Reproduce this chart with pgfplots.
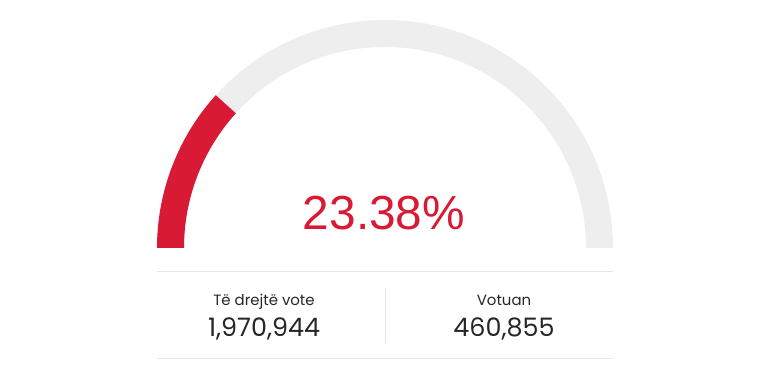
\documentclass[border=0pt]{standalone}
\usepackage{pgfplots}
\pgfplotsset{compat=1.18}
\usetikzlibrary{calc}
\usepackage{fontspec}
\setmainfont{Poppins}
\newfontfamily\arialfont{Liberation Sans}
\definecolor{gred}{HTML}{D91A35}
\definecolor{ggray}{HTML}{EEEEEE}
\definecolor{gline}{HTML}{E6E6E6}
\definecolor{gtext}{HTML}{262626}
\begin{document}
\begin{tikzpicture}
\begin{axis}[
  scale only axis, width=772bp, height=371bp,
  xmin=0, xmax=772, ymin=0, ymax=371,
  hide axis, clip=false,
]
\path (axis cs:0,0) rectangle (axis cs:772,371);
% data
\pgfmathsetmacro{\pct}{23.38}
\pgfmathsetmacro{\endang}{180-1.8*\pct}
% gauge background
\fill[ggray] (axis cs:157,123) arc[start angle=180, end angle=0, radius=228bp]
  -- (axis cs:586,123) arc[start angle=0, end angle=180, radius=201bp] -- cycle;
% value arc
\fill[gred] (axis cs:157,123) arc[start angle=180, end angle=\endang, radius=228bp]
  -- ($(axis cs:385,123)+(\endang:201bp)$) arc[start angle=\endang, end angle=180, radius=201bp] -- cycle;
\node[text=gred, font=\arialfont\fontsize{48}{48}\selectfont, anchor=base] at (axis cs:384,141) {23.38\%};
% separators
\draw[gline, line width=1bp] (axis cs:157,99) -- (axis cs:613,99);
\draw[gline, line width=1bp] (axis cs:157,12) -- (axis cs:613,12);
\draw[gline, line width=1bp] (axis cs:385,83) -- (axis cs:385,28);
% labels
\node[text=gtext, font=\fontsize{15}{15}\selectfont, anchor=base] at (axis cs:264,65) {Të drejtë vote};
\node[text=gtext, font=\fontsize{25.5}{25.5}\selectfont, anchor=base] at (axis cs:264,34) {1,970,944};
\node[text=gtext, font=\fontsize{15}{15}\selectfont, anchor=base] at (axis cs:504,65) {Votuan};
\node[text=gtext, font=\fontsize{25.5}{25.5}\selectfont, anchor=base] at (axis cs:504,34) {460,855};
\end{axis}
\end{tikzpicture}
\end{document}
